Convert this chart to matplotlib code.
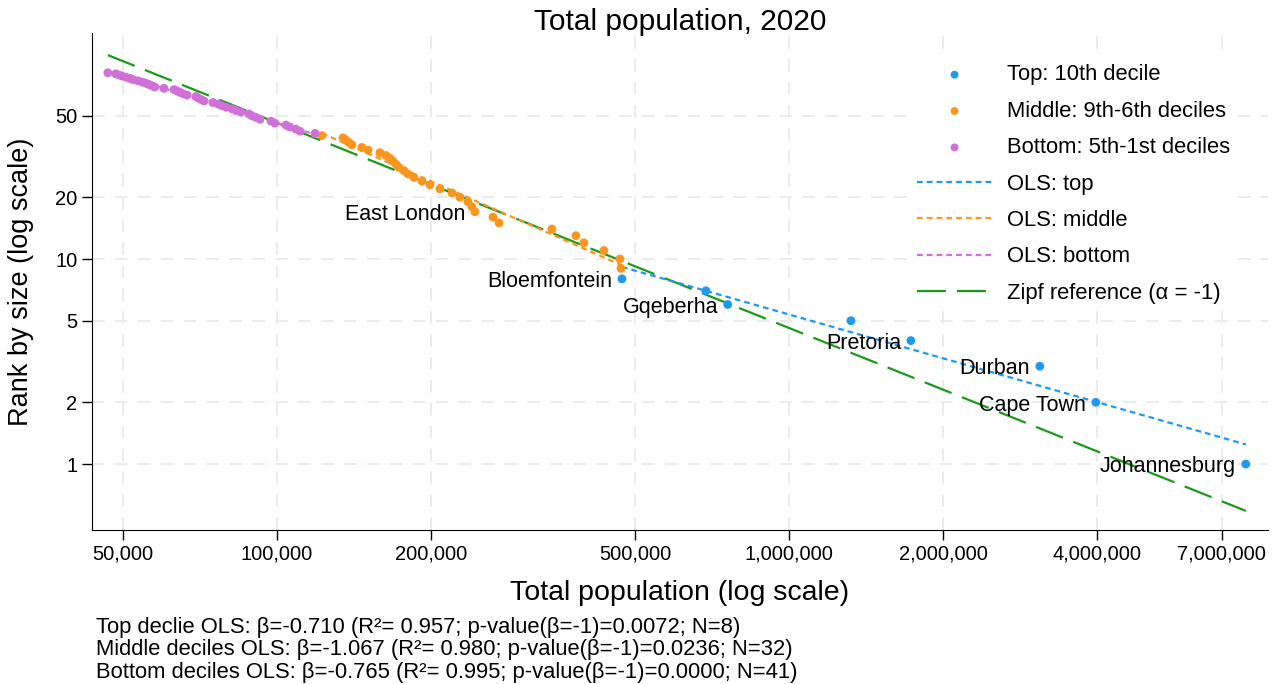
import numpy as np
import matplotlib
matplotlib.use('Agg')
import matplotlib.pyplot as plt
from matplotlib.ticker import FixedLocator, NullLocator

# population of each city, sorted from largest to smallest (rank 1 .. 81)
top_pop = [7805000, 3975000, 3090000, 1730000, 1321000, 759000, 688000, 471600]
mid_pop = [469600, 467400, 435000, 397500, 383400, 344200, 271300, 264100,
           243500, 240200, 236000, 227600, 219600, 208000, 198900, 191800,
           185000, 180100, 176900, 173000, 170700, 168400, 166200, 163200,
           158800, 150500, 146400, 140000, 138100, 136300, 134500, 122300]
bot_pop = [118600, 110800, 108800, 105900, 104100, 99000, 97300, 92600,
           90900, 89300, 88100, 85000, 83100, 81600, 79500, 78000, 76700,
           74900, 72000, 71000, 70100, 69400, 66700, 65500, 64600, 63700,
           62900, 60100, 57700, 57000, 56200, 55400, 54500, 53500, 52300,
           51600, 50700, 49800, 49100, 48400, 46700]

top_rank = list(range(1, 9))
mid_rank = list(range(9, 41))
bot_rank = list(range(41, 82))

# cities that get a name next to the marker (rank -> name)
city_names = {1: 'Johannesburg', 2: 'Cape Town', 3: 'Durban', 4: 'Pretoria',
              6: 'Gqeberha', 8: 'Bloemfontein', 17: 'East London'}

xticks = [50000, 100000, 200000, 500000, 1000000, 2000000, 4000000, 7000000]
yticks = [1, 2, 5, 10, 20, 50]

notes = ["Top declie OLS: β=-0.710 (R²= 0.957; p-value(β=-1)=0.0072; N=8)",
         "Middle deciles OLS: β=-1.067 (R²= 0.980; p-value(β=-1)=0.0236; N=32)",
         "Bottom deciles OLS: β=-0.765 (R²= 0.995; p-value(β=-1)=0.0000; N=41)"]

c_top = '#1f98f0'
c_mid = '#fa961e'
c_bot = '#d070d8'
c_zipf = '#1a9a1a'

plt.rcParams['font.family'] = ['Liberation Sans', 'DejaVu Sans']

fig = plt.figure(figsize=(12.82, 6.84), dpi=100)
ax = fig.add_axes([0.0718, 0.2251, 0.9172, 0.7267])

all_pop = np.array(top_pop + mid_pop + bot_pop, dtype=float)
all_rank = np.array(top_rank + mid_rank + bot_rank, dtype=float)

groups = [(top_pop, top_rank, c_top, 'Top: 10th decile', 'OLS: top'),
          (mid_pop, mid_rank, c_mid, 'Middle: 9th-6th deciles', 'OLS: middle'),
          (bot_pop, bot_rank, c_bot, 'Bottom: 5th-1st deciles', 'OLS: bottom')]

pts = []
fits = []
for pop, rank, col, lab, lab_ols in groups:
    p = np.array(pop, dtype=float)
    r = np.array(rank, dtype=float)
    pts.append(ax.scatter(p, r, s=40, color=col, edgecolors='none', zorder=4, label=lab))
    b, a = np.polyfit(np.log10(p), np.log10(r), 1)
    xx = np.array([p.min(), p.max()])
    ln, = ax.plot(xx, 10 ** (a + b * np.log10(xx)), color=col, lw=1.6,
                  dashes=(2.6, 1.8), zorder=3, label=lab_ols)
    fits.append(ln)

# Zipf reference line, slope -1 through the centroid of the data
c = np.mean(np.log10(all_rank)) + np.mean(np.log10(all_pop))
xx = np.array([all_pop.min(), all_pop.max()])
zipf, = ax.plot(xx, 10 ** (c - np.log10(xx)), color=c_zipf, lw=1.6,
                dashes=(13, 5), zorder=2, label='Zipf reference (α = -1)')

for r, name in city_names.items():
    ax.annotate(name, (all_pop[r - 1], all_rank[r - 1]), xytext=(-7, -2),
                textcoords='offset points', ha='right', va='center',
                fontsize=15.5, zorder=5)

ax.set_xscale('log')
ax.set_yscale('log')
ax.set_xlim(43500, 8620000)
ax.set_ylim(0.4766, 126.6)
ax.xaxis.set_major_locator(FixedLocator(xticks))
ax.xaxis.set_minor_locator(NullLocator())
ax.yaxis.set_major_locator(FixedLocator(yticks))
ax.yaxis.set_minor_locator(NullLocator())
ax.set_xticklabels([f'{v:,}' for v in xticks])
ax.set_yticklabels([str(v) for v in yticks])
ax.tick_params(labelsize=14.5, length=7, width=1, direction='out')

ax.grid(True, color='#ebebeb', lw=1.5, dashes=(6, 5))
ax.set_axisbelow(True)
ax.spines['top'].set_visible(False)
ax.spines['right'].set_visible(False)

# title sits close to the top of the plot area
fig.text(0.5 * (0.0718 + 0.989), 1 - 22 / 684, 'Total population, 2020',
         fontsize=21.5, ha='center', va='center')
ax.set_xlabel('Total population (log scale)', fontsize=20.5, labelpad=12)
ax.set_ylabel('Rank by size (log scale)', fontsize=19.5)
ax.yaxis.label.set_va('center')
ax.yaxis.set_label_coords(-0.06, 0.5)

leg = ax.legend(handles=pts + fits + [zipf], loc='upper right',
                bbox_to_anchor=(0.983, 0.972), fontsize=15.8, frameon=True,
                facecolor='white', edgecolor='none', framealpha=1,
                handlelength=3.4, handletextpad=0.7, labelspacing=0.7,
                borderpad=0.3, scatterpoints=1, markerscale=0.9)

fig.text(96 / 1282, 1 - 617 / 684, '\n'.join(notes), fontsize=15.8,
         va='top', ha='left', linespacing=1.08)

plt.savefig('out.png', dpi=100)
